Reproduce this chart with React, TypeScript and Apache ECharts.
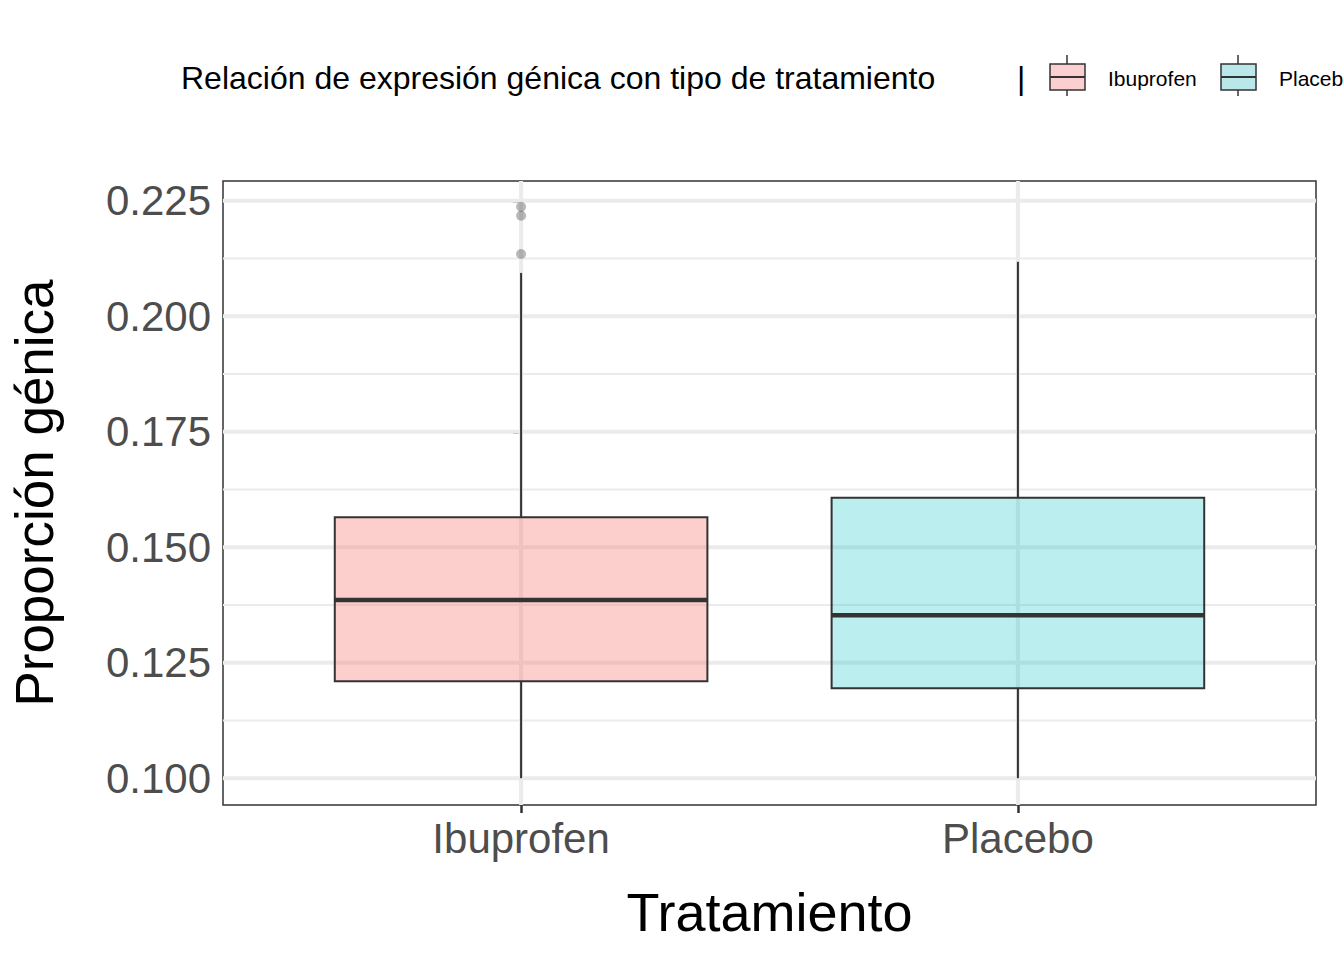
import { useEffect, useRef } from "react";
import * as echarts from "echarts";

const categories = ["Ibuprofen", "Placebo"];
// [min, Q1, median, Q3, max]
const boxValues = [
  [0.1, 0.121, 0.1386, 0.1565, 0.2094],
  [0.1, 0.1195, 0.1353, 0.1607, 0.2118],
];
const outliers = [
  [0, 0.2237],
  [0, 0.2218],
  [0, 0.2135],
];
const majorTicks = [0.1, 0.125, 0.15, 0.175, 0.2, 0.225];
const minorTicks = [0.1125, 0.1375, 0.1625, 0.1875, 0.2125];
const fills = ["rgba(248,118,109,0.35)", "rgba(0,191,196,0.27)"];
const legendFills = ["#FBCFCF", "#BAE7EA"];

const FONT = "Liberation Sans, Arial, sans-serif";
const BOX_W = 0.75;

export default function App() {
  const ref = useRef<HTMLDivElement>(null);
  useEffect(() => {
    if (!ref.current) return;
    const chart = echarts.init(ref.current, undefined, { renderer: "svg" });
    const legendItems: any[] = [];
    const keyX = [1050, 1221];
    categories.forEach((c, i) => {
      const x = keyX[i];
      legendItems.push(
        { type: "line", shape: { x1: x + 17, y1: 55, x2: x + 17, y2: 96 }, style: { stroke: "#333", lineWidth: 1.5 } },
        { type: "rect", shape: { x, y: 64, width: 35, height: 26 }, style: { fill: legendFills[i], stroke: "#333", lineWidth: 1.5 } },
        { type: "line", shape: { x1: x, y1: 77, x2: x + 35, y2: 77 }, style: { stroke: "#333", lineWidth: 2 } },
        { type: "text", x: x + 58, y: 78, style: { text: c, font: `21px ${FONT}`, fill: "#000", verticalAlign: "middle" } }
      );
    });
    const gridLines = [
      ...majorTicks.map((v) => [0, v, 4]),
      ...minorTicks.map((v) => [0, v, 2]),
      ...categories.map((_, i) => [1, i, 4]),
    ];
    const option = {
      animation: false,
      backgroundColor: "#fff",
      grid: { left: 221, top: 181, width: 1095, height: 624, show: true, borderColor: "#333", borderWidth: 1.5, backgroundColor: "transparent" },
      xAxis: {
        type: "value",
        min: -0.6,
        max: 1.6,
        axisLine: { show: false },
        axisTick: { show: true, length: 8, customValues: [0, 1], lineStyle: { color: "#333", width: 2.5 } },
        axisLabel: { color: "#4D4D4D", fontSize: 42, fontFamily: FONT, margin: 12, customValues: [0, 1], formatter: (v: number) => categories[Math.round(v)] ?? "" },
        splitLine: { show: false },
        name: "Tratamiento",
        nameLocation: "middle",
        nameGap: 80,
        nameTextStyle: { color: "#000", fontSize: 54, fontFamily: FONT },
      },
      yAxis: {
        type: "value",
        min: 0.0942,
        max: 0.2293,
        axisLine: { show: false },
        axisTick: { show: true, length: 8, customValues: majorTicks, lineStyle: { color: "#333", width: 2.5 } },
        axisLabel: { color: "#4D4D4D", fontSize: 42, fontFamily: FONT, margin: 12, customValues: majorTicks, formatter: (v: number) => v.toFixed(3) },
        splitLine: { show: false },
        name: "Proporción génica",
        nameLocation: "middle",
        nameGap: 162,
        nameTextStyle: { color: "#000", fontSize: 53, fontFamily: FONT },
      },
      series: [
        {
          type: "custom",
          z: 1,
          silent: true,
          data: gridLines,
          clip: true,
          renderItem: (params: any, api: any) => {
            const cs = params.coordSys;
            const kind = api.value(0);
            const v = api.value(1);
            const w = api.value(2);
            if (kind === 0) {
              const y = api.coord([0, v])[1];
              return { type: "line", shape: { x1: cs.x, y1: y, x2: cs.x + cs.width, y2: y }, style: { stroke: "#EBEBEB", lineWidth: w } };
            }
            const x = api.coord([v, 0.15])[0];
            return { type: "line", shape: { x1: x, y1: cs.y, x2: x, y2: cs.y + cs.height }, style: { stroke: "#EBEBEB", lineWidth: w } };
          },
        },
        {
          type: "custom",
          z: 2,
          data: boxValues.map((v, i) => [i, ...v]),
          renderItem: (params: any, api: any) => {
            const i = api.value(0);
            const [lo, q1, med, q3, hi] = [1, 2, 3, 4, 5].map((k) => api.value(k));
            const x = api.coord([i, med])[0];
            const hw = (api.size([BOX_W, 0])[0]) / 2;
            const y = (v: number) => api.coord([i, v])[1];
            return {
              type: "group",
              children: [
                { type: "line", shape: { x1: x, y1: y(q3), x2: x, y2: y(hi) }, style: { stroke: "#333", lineWidth: 2 } },
                { type: "line", shape: { x1: x, y1: y(q1), x2: x, y2: y(lo) }, style: { stroke: "#333", lineWidth: 2 } },
                { type: "rect", shape: { x: x - hw, y: y(q3), width: 2 * hw, height: y(q1) - y(q3) }, style: { fill: fills[i], stroke: "#333", lineWidth: 2 } },
                { type: "line", shape: { x1: x - hw, y1: y(med), x2: x + hw, y2: y(med) }, style: { stroke: "#333", lineWidth: 4.5 } },
              ],
            };
          },
        },
        {
          type: "scatter",
          z: 4,
          data: outliers,
          symbolSize: 10,
          itemStyle: { color: "rgba(60,60,60,0.45)" },
        },
      ],
      graphic: [
        { type: "text", x: 181, y: 78, style: { text: "Relación de expresión génica con tipo de tratamiento", font: `32px ${FONT}`, fill: "#000", verticalAlign: "middle" } },
        { type: "text", x: 1017, y: 78, style: { text: "|", font: `32px ${FONT}`, fill: "#000", verticalAlign: "middle" } },
        ...legendItems,
      ],
    } as any;
    chart.setOption(option);
    return () => chart.dispose();
  }, []);
  return <div ref={ref} style={{ position: "fixed", left: 0, top: 0, width: 1344, height: 960 }} />;
}
